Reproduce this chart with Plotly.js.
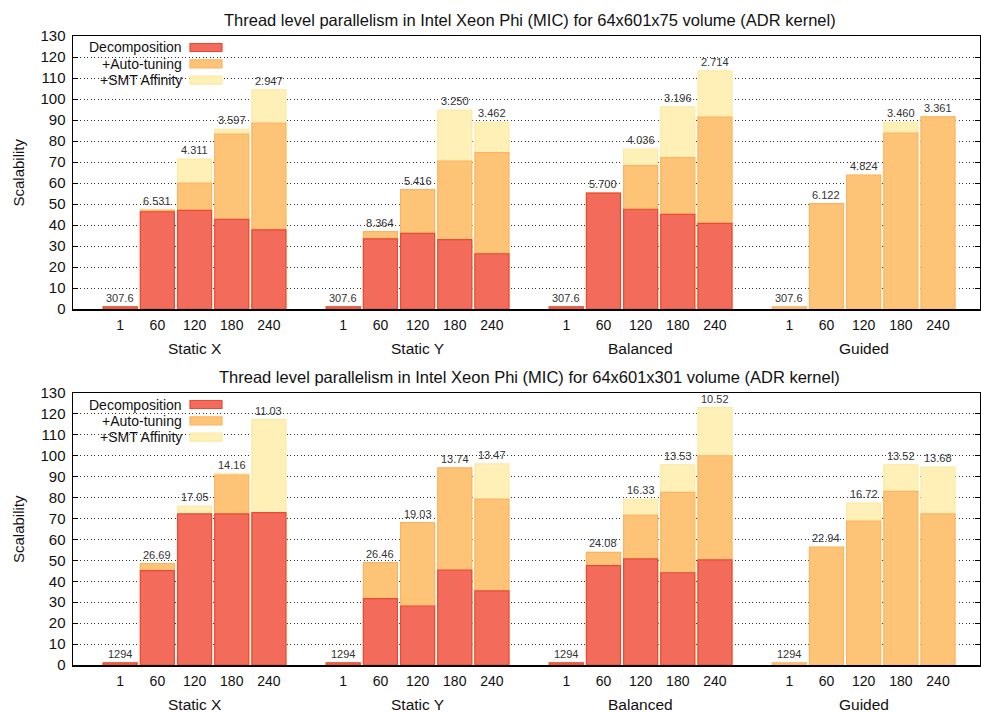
<!DOCTYPE html>
<html>
<head>
<meta charset="utf-8">
<script src="https://cdn.plot.ly/plotly-3.0.1.min.js"></script>
<style>
  html, body { margin: 0; padding: 0; background: #fff; }
  #chart { width: 981px; height: 713px; }
</style>
</head>
<body>
<div id="chart"></div>
<script>
// Thread counts within each scheduling group
const threads = ['1', '60', '120', '180', '240'];
const schedules = ['Static X', 'Static Y', 'Balanced', 'Guided'];

// 64x601x75 volume: scalability per configuration (groups in schedule order)
const decomp75 = [1, 46.3, 47.0, 42.7, 37.7,  1, 33.4, 36.0, 33.0, 26.3,  1, 55.2, 47.5, 45.1, 40.8,  null, null, null, null, null];
const auto75   = [1, 47.1, 59.9, 83.3, 88.5,  1, 36.8, 56.8, 70.4, 74.5,  1, 55.2, 68.3, 72.1, 91.4,  1, 50.2, 63.8, 83.8, 91.5];
const smt75    = [1, 47.1, 71.4, 85.5, 104.4, 1, 36.8, 56.8, 94.7, 88.9,  1, 55.2, 76.2, 96.3, 113.4, 1, 50.2, 63.8, 88.9, 91.5];
const time75   = ['307.6', '6.531', '4.311', '3.597', '2.947', '307.6', '8.364', '5.416', '3.250', '3.462',
                  '307.6', '5.700', '4.036', '3.196', '2.714', '307.6', '6.122', '4.824', '3.460', '3.361'];

// 64x601x301 volume
const decomp301 = [1, 45.1, 72.2, 72.2, 72.8,  1, 31.7, 28.2, 45.4, 35.4,  1, 47.5, 50.7, 44.1, 50.2,  null, null, null, null, null];
const auto301   = [1, 48.5, 72.0, 90.8, 72.5,  1, 48.9, 68.0, 94.2, 79.3,  1, 53.8, 71.7, 82.5, 100.0, 1, 56.4, 68.8, 83.0, 72.2];
const smt301    = [1, 48.5, 75.9, 91.4, 117.3, 1, 48.9, 68.0, 94.2, 96.1,  1, 53.8, 79.2, 95.7, 123.0, 1, 56.4, 77.4, 95.7, 94.6];
const time301   = ['1294', '26.69', '17.05', '14.16', '11.03', '1294', '26.46', '19.03', '13.74', '13.47',
                   '1294', '24.08', '16.33', '13.53', '10.52', '1294', '22.94', '16.72', '13.52', '13.68'];

const seriesNames = ['Decomposition', '+Auto-tuning', '+SMT Affinity'];
const titles = [
  'Thread level parallelism in Intel Xeon Phi (MIC) for 64x601x75 volume (ADR kernel)',
  'Thread level parallelism in Intel Xeon Phi (MIC) for 64x601x301 volume (ADR kernel)'
];

// Styling
const FONT = 'Liberation Sans, Arial, Helvetica, sans-serif';
const fills = ['#f26b5b', '#fdc478', '#fef0b6'];
const edges = ['#ea4a33', '#fdb462', '#fde9a2'];
const W = 981, H = 713;
const xDomain = [73 / W, 980 / W];
const panels = [
  { top: 36, bottom: 309, data: [decomp75, auto75, smt75], times: time75, title: titles[0], ax: '' },
  { top: 393, bottom: 665, data: [decomp301, auto301, smt301], times: time301, title: titles[1], ax: '2' }
];

// Slot position of each bar: five thread counts per group, one empty slot between groups
const slotX = [];
schedules.forEach((s, g) => threads.forEach((t, i) => slotX.push(g * 6 + i)));
const tickText = slotX.map((x, k) => threads[k % threads.length]);

const traces = [];
const annotations = [];
const shapes = [];
const layout = {
  width: W, height: H,
  margin: { l: 0, r: 0, t: 0, b: 0 },
  paper_bgcolor: '#fff', plot_bgcolor: '#fff',
  barmode: 'overlay',
  showlegend: false,
  font: { family: FONT, size: 14, color: '#111' }
};

panels.forEach((p) => {
  const xa = 'x' + p.ax, ya = 'y' + p.ax;
  const yDomain = [1 - p.bottom / H, 1 - p.top / H];

  layout['xaxis' + p.ax] = {
    domain: xDomain, anchor: ya, range: [-1.27, 23.13],
    tickvals: slotX, ticktext: tickText, ticks: '', ticklabelstandoff: 3,
    showgrid: false, zeroline: false,
    showline: true, linecolor: '#000', linewidth: 1.5, mirror: true,
    tickfont: { family: FONT, size: 14, color: '#111' }, fixedrange: true
  };
  layout['yaxis' + p.ax] = {
    domain: yDomain, anchor: xa, range: [0, 130], dtick: 10,
    ticks: 'inside', ticklen: 5, tickcolor: '#000', mirror: 'allticks',
    showline: true, linecolor: '#000', linewidth: 1.5,
    showgrid: true, gridcolor: '#333', griddash: '1px,2.5px', gridwidth: 1,
    zeroline: false, tickfont: { family: FONT, size: 15, color: '#111' },
    ticklabelstandoff: 3, fixedrange: true
  };

  // Overlaid bars: SMT affinity at the back, decomposition in front
  [2, 1, 0].forEach((s) => {
    traces.push({
      type: 'bar', x: slotX, y: p.data[s], xaxis: xa, yaxis: ya,
      name: seriesNames[s], width: 0.915,
      marker: { color: fills[s], line: { color: edges[s], width: 1.2 } },
      hoverinfo: 'skip'
    });
  });

  // Run time label over the tallest bar in each slot
  slotX.forEach((x, k) => {
    const top = Math.max(...p.data.map(d => d[k] == null ? 0 : d[k]));
    annotations.push({
      xref: xa, yref: ya, x: x, y: top, text: p.times[k],
      showarrow: false, yanchor: 'bottom', yshift: 1,
      font: { family: FONT, size: 11, color: '#333' }
    });
  });

  // Group names under the thread counts
  schedules.forEach((s, g) => {
    annotations.push({
      xref: xa, yref: 'paper', x: g * 6 + 2, y: 1 - (p.bottom + 39) / H,
      text: s, showarrow: false, yanchor: 'middle',
      font: { family: FONT, size: 15.5, color: '#111' }
    });
  });

  // Panel title
  annotations.push({
    xref: 'paper', yref: 'paper', x: (xDomain[0] + xDomain[1]) / 2 + 3 / W, y: 1 - (p.top - 16) / H,
    text: p.title, showarrow: false, yanchor: 'middle',
    font: { family: FONT, size: 16.5, color: '#111' }
  });

  // Y axis title
  annotations.push({
    xref: 'paper', yref: 'paper', x: 18 / W, y: 1 - ((p.top + p.bottom) / 2) / H,
    text: 'Scalability', textangle: -90, showarrow: false,
    xanchor: 'center', yanchor: 'middle',
    font: { family: FONT, size: 15, color: '#111' }
  });

  // Key box: blank background over the grid, then swatches with right-aligned labels
  shapes.push({
    type: 'rect', xref: 'paper', yref: 'paper', layer: 'between',
    x0: 75 / W, x1: 229 / W, y0: 1 - (p.top + 52) / H, y1: 1 - (p.top + 2) / H,
    fillcolor: '#fff', line: { width: 0 }
  });
  seriesNames.forEach((n, s) => {
    const cy = p.top + 11.5 + s * 16.3;
    shapes.push({
      type: 'rect', xref: 'paper', yref: 'paper', layer: 'above',
      x0: 190 / W, x1: 222 / W, y0: 1 - (cy + 4) / H, y1: 1 - (cy - 4) / H,
      fillcolor: fills[s], line: { color: edges[s], width: 1.2 }
    });
    annotations.push({
      xref: 'paper', yref: 'paper', x: 184 / W, y: 1 - cy / H,
      text: n, showarrow: false, xanchor: 'right', yanchor: 'middle',
      font: { family: FONT, size: 14, color: '#111' }
    });
  });
});

layout.annotations = annotations;
layout.shapes = shapes;

Plotly.newPlot('chart', traces, layout, { displayModeBar: false, staticPlot: true });
</script>
</body>
</html>
